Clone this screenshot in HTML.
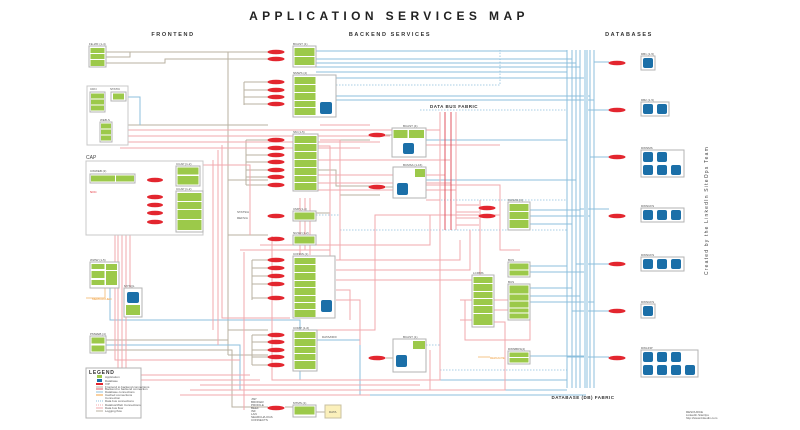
<!DOCTYPE html>
<html><head><meta charset="utf-8"><style>
html,body{margin:0;padding:0;background:#fff;width:800px;height:430px;overflow:hidden}
svg{display:block;font-family:"Liberation Sans",sans-serif}
.g{fill:#9cc94a}
.c{fill:#fff;stroke:#b3b3b3;stroke-width:1}
.b{fill:#1b6fa8}
.o{fill:#e3262f}
.r{stroke:#f2a8ad;stroke-width:1;fill:none}
.rd{stroke:#e05560;stroke-width:1;fill:none}
.u{stroke:#8cbfdc;stroke-width:1;fill:none}
.ud{stroke:#8cbfdc;stroke-width:0.8;fill:none;stroke-dasharray:1.5 1.5}
.k{stroke:#b9b2a2;stroke-width:1;fill:none}
.t{font-size:3px;fill:#555}
.h{font-size:5.5px;font-weight:bold;fill:#333;letter-spacing:1.6px}
</style></head><body>
<svg width="800" height="430" viewBox="0 0 800 430">
<text x="389" y="20" text-anchor="middle" font-size="12" font-weight="bold" fill="#222" letter-spacing="4.4">APPLICATION SERVICES MAP</text>
<text x="173" y="36" text-anchor="middle" class="h">FRONTEND</text>
<text x="390" y="36" text-anchor="middle" class="h">BACKEND SERVICES</text>
<text x="629" y="36" text-anchor="middle" class="h">DATABASES</text>
<text x="454" y="108" text-anchor="middle" font-size="4.5" font-weight="bold" fill="#333" letter-spacing="0.5">DATA BUS FABRIC</text>
<text x="583" y="399" text-anchor="middle" font-size="4.5" font-weight="bold" fill="#333" letter-spacing="0.5">DATABASE (DB) FABRIC</text>
<text transform="translate(708,275) rotate(-90)" font-size="5" fill="#444" letter-spacing="1.2">Created by the LinkedIn SiteOps Team</text>

<g class="k">
<path d="M106 52H228M106 57H130V52M106 63H165V59H228M228 52V355M228 52H268M228 59H268M228 125H268M228 180H268M228 235H268M228 330H268M228 355H268"/>
<path d="M244 82V105M244 82H268M244 90H268M244 97H268M244 104H268"/>
<path d="M246 140V185M246 140H268M246 148H268M246 155H268M246 162H268M246 170H268M246 177H268M246 185H268"/>
<path d="M252 260V300M252 260H268M252 268H268M252 276H268M252 284H268M252 298H268"/>
<path d="M252 335V365M252 335H268M252 342H268M252 350H268M252 357H268M252 365H268"/>
<path d="M128 125H228M135 180H147M163 180H176M140 195V235M140 197H148M140 205H148M140 213H148M140 222H148M106 340H228M106 350H232V407H268"/>
<path d="M336 140H370M386 135H392M386 187H393M386 358H393M316 170H336V186H370M316 213H330M340 180V195H380"/>
<path d="M249 407H268M285 407H293M316 412H325"/>
</g>
<g class="u">
<path d="M316 51H567M316 59H572M316 63H576M316 67H580M316 72H567M316 78H586M336 96H590M336 100H594"/>
<path d="M121 97H140V125"/>
<path d="M594 62H609M586 110H609M590 157H609M580 209H609M576 264H609M572 311H609M567 357H609"/>
<path d="M426 140H567M426 180H576M530 210H580M530 216H590M530 224H572M530 266H567M530 272H586M530 288H572M530 296H580M530 302H594M530 356H586"/>
<path d="M110 280V320H300V380H567M106 345H240V390H567M316 340H360V395H586"/>
<path d="M567 50V388M572 50V388M576 50V388M580 50V388M590 50V388M594 50V388"/>
</g>
<rect x="584" y="50" width="4" height="338" fill="#c6e0ef"/>
<g class="ud">
<path d="M336 85H500V50M420 110H567M426 200H567M316 215H340V230H567M426 345H440V370H567"/>
</g>
<g class="r">
<path d="M110 130H440M112 136H390M116 142H380M120 148H360M108 165H250V235M110 190H130V290M115 195V360H240M118 198V380H260M122 200V375H250M126 204V370"/>
<path d="M213 160V330M218 150V345M222 145V318H290"/>
<path d="M320 125H370M320 140H340V260M316 146H330V300M316 160H450M316 175H445M316 183H451M316 190H456"/>
<path d="M336 260H460V240M336 270H470V230M336 280H480V200M336 290H350V320M336 300H360V345M316 330H375V215H500"/>
<path d="M300 198V255M305 198V250M310 198V255M240 250H330M244 252V410M260 245H430V215M272 236V380H440V300"/>
<path d="M426 145H500M426 200H440V330M426 185H500V250H520"/>
<path d="M440 112V230M445 112V230M451 112V230M456 112V230"/>
<path d="M456 205H479M456 212H479M456 218H479M456 225H479"/>
<path d="M460 300H472M460 320H472M494 300H510M494 310H510M465 300V340H530V290M494 322H505V390H280"/>
<path d="M180 395H370M200 385H420M190 390H430V350"/>
</g>
<g class="rd"><path d="M445 112V230M451 112V230"/></g>
<path d="M86 298H105V288H110" stroke="#f6c68a" fill="none"/>
<path d="M478 357H490" stroke="#f6c68a" fill="none"/>

<rect class="c" x="89" y="46" width="17" height="21"/>
<rect class="g" x="90.5" y="48" width="14" height="5"/><rect class="g" x="90.5" y="54" width="14" height="5"/><rect class="g" x="90.5" y="60" width="14" height="6"/>
<text class="t" x="89" y="45">FE-WF (1-4)</text>
<rect fill="#fff" stroke="#c8c8c8" x="87" y="86" width="41" height="59"/>
<rect class="c" x="90" y="92" width="15" height="20"/>
<rect class="g" x="91" y="93.5" width="13" height="5"/><rect class="g" x="91" y="99.5" width="13" height="5"/><rect class="g" x="91" y="105.5" width="13" height="5"/>
<rect class="c" x="111" y="92" width="15" height="9"/><rect class="g" x="113" y="93.5" width="11" height="6"/>
<rect class="c" x="100" y="122" width="12" height="20"/>
<rect class="g" x="101" y="123.5" width="10" height="5"/><rect class="g" x="101" y="129.5" width="10" height="5"/><rect class="g" x="101" y="135.5" width="10" height="5"/>
<text class="t" x="90" y="90">CDN</text><text class="t" x="110" y="90">STATIC</text><text class="t" x="100" y="121">WEB-S</text>
<text x="86" y="159" font-size="5" fill="#444">CAP</text>
<rect fill="#fff" stroke="#c8c8c8" x="86" y="161" width="117" height="74"/>
<rect class="c" x="90" y="174" width="45" height="9"/><rect class="g" x="91" y="175.5" width="24" height="6"/><rect class="g" x="116" y="175.5" width="18" height="6"/>
<text class="t" x="90" y="172">CWWEB (2)</text>
<rect class="c" x="176" y="166" width="24" height="20"/><rect class="g" x="177.5" y="167.5" width="21" height="7"/><rect class="g" x="177.5" y="176" width="21" height="8.5"/>
<rect class="c" x="176" y="191" width="27" height="41"/>
<rect class="g" x="177.5" y="193" width="24" height="8"/><rect class="g" x="177.5" y="202" width="24" height="7"/><rect class="g" x="177.5" y="210" width="24" height="9"/><rect class="g" x="177.5" y="220" width="24" height="10"/>
<text class="t" x="176" y="165">CCAP (1-2)</text><text class="t" x="176" y="190">CCAP (1-2)</text>
<text x="90" y="193" font-size="3" fill="#e3262f">NOC</text>
<rect class="c" x="90" y="262" width="29" height="26"/>
<rect class="g" x="91.5" y="264" width="13" height="5"/><rect class="g" x="91.5" y="271" width="13" height="7"/><rect class="g" x="91.5" y="280" width="13" height="5"/><rect class="g" x="106" y="264" width="11" height="6"/><rect class="g" x="106" y="271" width="11" height="14"/>
<text class="t" x="90" y="261">WWW (1-5)</text>
<rect class="c" x="124" y="288" width="18" height="29"/><rect class="b" x="127" y="292" width="12" height="11" rx="2"/><rect class="g" x="126" y="305" width="14" height="10"/>
<text class="t" x="124" y="287">MYSQL</text>
<text x="92" y="300" font-size="3" fill="#f0a040">MEMCACHED</text>
<rect class="c" x="90" y="336" width="16" height="17"/><rect class="g" x="91.5" y="337.5" width="13" height="6"/><rect class="g" x="91.5" y="345.5" width="13" height="6"/>
<text class="t" x="90" y="335">PMWEB (4)</text>
<rect class="c" x="86" y="368" width="55" height="50"/>
<text x="89" y="374" font-size="5" font-weight="bold" fill="#333" letter-spacing="0.8">LEGEND</text>
<rect class="g" x="97" y="375" width="5" height="3"/><rect class="b" x="97" y="379" width="5" height="3"/><rect class="o" x="96" y="383" width="7" height="2"/>
<g stroke-width="1"><path d="M96 387H103" stroke="#b9b2a2"/><path d="M96 389H103" stroke="#e05560"/><path d="M96 392H103" stroke="#8cbfdc"/><path d="M96 395H103" stroke="#f0a040"/><path d="M96 401H103" stroke="#8cbfdc" stroke-dasharray="1 1"/><path d="M96 405H103" stroke="#f2a8ad" stroke-dasharray="1 1"/><path d="M96 408H103" stroke="#f2a8ad"/><path d="M96 411H103" stroke="#b9b2a2"/></g>
<g class="t" font-size="2"><text x="105" y="378">Application</text><text x="105" y="382">Database</text><text x="105" y="385">VIP</text><text x="105" y="388">Frontend to backend connections</text><text x="105" y="390">Backend to backend connection</text><text x="105" y="393">Database connections</text><text x="105" y="396">Cached connections</text><text x="105" y="399">Connection</text><text x="105" y="402">Data bus connections</text><text x="105" y="406">Databus/Web Connections</text><text x="105" y="409">Data bus flow</text><text x="105" y="412">Logging flow</text></g>

<rect class="c" x="293" y="46" width="23" height="21"/><rect class="g" x="294.5" y="48" width="20" height="8"/><rect class="g" x="294.5" y="57" width="20" height="8"/>
<text class="t" x="293" y="45">BCAST (1)</text>
<rect class="c" x="293" y="75" width="43" height="42"/>
<rect class="g" x="294.5" y="77" width="21" height="7"/><rect class="g" x="294.5" y="85" width="21" height="7"/><rect class="g" x="294.5" y="93" width="21" height="7"/><rect class="g" x="294.5" y="101" width="21" height="6"/><rect class="g" x="294.5" y="108" width="21" height="7"/>
<rect class="b" x="320" y="102" width="12" height="12" rx="2"/>
<text class="t" x="293" y="74">NMWS (4)</text>
<rect class="c" x="293" y="134" width="25" height="57"/>
<g class="g"><rect x="294.5" y="136" width="22" height="7"/><rect x="294.5" y="144" width="22" height="7"/><rect x="294.5" y="152" width="22" height="7"/><rect x="294.5" y="160" width="22" height="7"/><rect x="294.5" y="168" width="22" height="7"/><rect x="294.5" y="176" width="22" height="6"/><rect x="294.5" y="183" width="22" height="7"/></g>
<text class="t" x="293" y="133">SM (1-5)</text>
<rect class="c" x="293" y="211" width="23" height="10"/><rect class="g" x="294.5" y="212.5" width="20" height="7"/><text class="t" x="293" y="210">CMP (1-4)</text>
<rect class="c" x="293" y="235" width="23" height="10"/><rect class="g" x="294.5" y="236.5" width="20" height="7"/><text class="t" x="293" y="234">NUSR (1-2)</text>
<rect class="c" x="293" y="256" width="42" height="62"/>
<g class="g"><rect x="294.5" y="258" width="21" height="6"/><rect x="294.5" y="265" width="21" height="7"/><rect x="294.5" y="273" width="21" height="7"/><rect x="294.5" y="281" width="21" height="6"/><rect x="294.5" y="288" width="21" height="7"/><rect x="294.5" y="296" width="21" height="6"/><rect x="294.5" y="303" width="21" height="6"/><rect x="294.5" y="310" width="21" height="7"/></g>
<rect class="b" x="321" y="300" width="11" height="12" rx="2"/>
<text class="t" x="293" y="255">CONNS (1)</text>
<rect class="c" x="293" y="330" width="24" height="41"/>
<g class="g"><rect x="294.5" y="332" width="21" height="6"/><rect x="294.5" y="339" width="21" height="7"/><rect x="294.5" y="347" width="21" height="6"/><rect x="294.5" y="354" width="21" height="6"/><rect x="294.5" y="361" width="21" height="8"/></g>
<text class="t" x="293" y="329">COMP (1-6)</text>
<rect class="c" x="293" y="405" width="23" height="12"/><rect class="g" x="294.5" y="406.5" width="20" height="8"/><text class="t" x="293" y="404">MTMS (1)</text>
<rect x="325" y="405" width="16" height="13" fill="#fbf0bb" stroke="#c8c0a0"/><text class="t" x="329" y="413">DATA</text>
<g class="t" font-size="2.5"><text x="251" y="400">JSP</text><text x="251" y="403">BROKER</text><text x="251" y="406">PROFILE</text><text x="251" y="409">BEEF</text><text x="251" y="412">INF</text><text x="251" y="415">LAN</text><text x="251" y="418">SEARCH/LOGS</text><text x="251" y="421">CONNECTS</text></g>
<text class="t" x="237" y="213">STATS/A</text><text class="t" x="237" y="219">REFS/A</text>
<text class="t" x="322" y="338">DATA/DIFF</text>

<rect class="c" x="392" y="128" width="34" height="29"/><rect class="g" x="393.5" y="130" width="14" height="8"/><rect class="g" x="409" y="130" width="15" height="8"/><rect class="b" x="403" y="143" width="11" height="11" rx="2"/>
<text class="t" x="403" y="127">BCAST (4)</text>
<rect class="c" x="393" y="167" width="33" height="31"/><rect class="g" x="415" y="169" width="10" height="8"/><rect class="b" x="397" y="183" width="11" height="12" rx="2"/>
<text class="t" x="403" y="166">BCMSA (1-16)</text>
<rect class="c" x="393" y="339" width="33" height="33"/><rect class="g" x="413" y="341" width="12" height="8"/><rect class="b" x="396" y="355" width="11" height="12" rx="2"/>
<text class="t" x="403" y="338">BCAST (1)</text>

<rect class="c" x="508" y="202" width="22" height="28"/><rect class="g" x="509.5" y="204" width="19" height="7"/><rect class="g" x="509.5" y="212" width="19" height="7"/><rect class="g" x="509.5" y="220" width="19" height="8"/>
<text class="t" x="508" y="201">DANAS (4)</text>
<rect class="c" x="472" y="275" width="22" height="52"/>
<g class="g"><rect x="473.5" y="277" width="19" height="6"/><rect x="473.5" y="284" width="19" height="7"/><rect x="473.5" y="292" width="19" height="6"/><rect x="473.5" y="299" width="19" height="6"/><rect x="473.5" y="306" width="19" height="7"/><rect x="473.5" y="314" width="19" height="11"/></g>
<text class="t" x="473" y="274">LCRMS</text>
<rect class="c" x="508" y="262" width="22" height="15"/><rect class="g" x="509.5" y="263.5" width="19" height="6"/><rect class="g" x="509.5" y="270.5" width="19" height="5"/>
<text class="t" x="508" y="261">BUS</text>
<rect class="c" x="508" y="284" width="22" height="36"/>
<g class="g"><rect x="509.5" y="285.5" width="19" height="8"/><rect x="509.5" y="294.5" width="19" height="6"/><rect x="509.5" y="301.5" width="19" height="6"/><rect x="509.5" y="308.5" width="19" height="4"/><rect x="509.5" y="313.5" width="19" height="5"/></g>
<text class="t" x="508" y="283">BUS</text>
<rect class="c" x="508" y="351" width="22" height="13"/><rect class="g" x="509.5" y="352.5" width="19" height="4.5"/><rect class="g" x="509.5" y="358" width="19" height="4.5"/>
<text class="t" x="508" y="350">DWNBDS(4)</text>
<text x="490" y="359" font-size="2.5" fill="#f0a040">MEMCACHE</text>

<rect class="c" x="641" y="56" width="14" height="14"/><rect class="b" x="643" y="58" width="10" height="10" rx="2"/><text class="t" x="641" y="55">DB1 (1-5)</text>
<rect class="c" x="641" y="102" width="28" height="14"/><rect class="b" x="643" y="104" width="10" height="10" rx="2"/><rect class="b" x="657" y="104" width="10" height="10" rx="2"/><text class="t" x="641" y="101">DB2 (1-5)</text>
<rect class="c" x="641" y="150" width="43" height="27"/>
<g class="b"><rect x="643" y="152" width="10" height="10" rx="2"/><rect x="657" y="152" width="10" height="10" rx="2"/><rect x="643" y="165" width="10" height="10" rx="2"/><rect x="657" y="165" width="10" height="10" rx="2"/><rect x="671" y="165" width="10" height="10" rx="2"/></g>
<text class="t" x="641" y="149">DWNMS</text>
<rect class="c" x="641" y="208" width="43" height="14"/>
<g class="b"><rect x="643" y="210" width="10" height="10" rx="2"/><rect x="657" y="210" width="10" height="10" rx="2"/><rect x="671" y="210" width="10" height="10" rx="2"/></g>
<text class="t" x="641" y="207">DWNUFS</text>
<rect class="c" x="641" y="257" width="43" height="14"/>
<g class="b"><rect x="643" y="259" width="10" height="10" rx="2"/><rect x="657" y="259" width="10" height="10" rx="2"/><rect x="671" y="259" width="10" height="10" rx="2"/></g>
<text class="t" x="641" y="256">DWNUFS</text>
<rect class="c" x="641" y="304" width="14" height="14"/><rect class="b" x="643" y="306" width="10" height="10" rx="2"/><text class="t" x="641" y="303">DWNUFS</text>
<rect class="c" x="641" y="350" width="57" height="27"/>
<g class="b"><rect x="643" y="352" width="10" height="10" rx="2"/><rect x="657" y="352" width="10" height="10" rx="2"/><rect x="671" y="352" width="10" height="10" rx="2"/><rect x="643" y="365" width="10" height="10" rx="2"/><rect x="657" y="365" width="10" height="10" rx="2"/><rect x="671" y="365" width="10" height="10" rx="2"/><rect x="685" y="365" width="10" height="10" rx="2"/></g>
<text class="t" x="641" y="349">DWLINP</text>
<g class="t" font-size="2"><text x="686" y="413">RESOURCE</text><text x="686" y="416">LinkedIn SiteOps</text><text x="686" y="419">http://www.linkedin.com</text></g>

<g class="o">
<ellipse cx="155" cy="180" rx="8" ry="2.3"/>
<ellipse cx="155" cy="197" rx="8" ry="2.3"/><ellipse cx="155" cy="205" rx="8" ry="2.3"/><ellipse cx="155" cy="213" rx="8" ry="2.3"/><ellipse cx="155" cy="222" rx="8" ry="2.3"/>
<ellipse cx="276" cy="52" rx="8.5" ry="2.3"/><ellipse cx="276" cy="59" rx="8.5" ry="2.3"/>
<ellipse cx="276" cy="82" rx="8.5" ry="2.3"/><ellipse cx="276" cy="90" rx="8.5" ry="2.3"/><ellipse cx="276" cy="97" rx="8.5" ry="2.3"/><ellipse cx="276" cy="104" rx="8.5" ry="2.3"/>
<ellipse cx="276" cy="140" rx="8.5" ry="2.3"/><ellipse cx="276" cy="148" rx="8.5" ry="2.3"/><ellipse cx="276" cy="155" rx="8.5" ry="2.3"/><ellipse cx="276" cy="162" rx="8.5" ry="2.3"/><ellipse cx="276" cy="170" rx="8.5" ry="2.3"/><ellipse cx="276" cy="177" rx="8.5" ry="2.3"/><ellipse cx="276" cy="185" rx="8.5" ry="2.3"/>
<ellipse cx="276" cy="216" rx="8.5" ry="2.3"/><ellipse cx="276" cy="239" rx="8.5" ry="2.3"/>
<ellipse cx="276" cy="260" rx="8.5" ry="2.3"/><ellipse cx="276" cy="268" rx="8.5" ry="2.3"/><ellipse cx="276" cy="276" rx="8.5" ry="2.3"/><ellipse cx="276" cy="284" rx="8.5" ry="2.3"/><ellipse cx="276" cy="298" rx="8.5" ry="2.3"/>
<ellipse cx="276" cy="335" rx="8.5" ry="2.3"/><ellipse cx="276" cy="342" rx="8.5" ry="2.3"/><ellipse cx="276" cy="350" rx="8.5" ry="2.3"/><ellipse cx="276" cy="357" rx="8.5" ry="2.3"/><ellipse cx="276" cy="365" rx="8.5" ry="2.3"/>
<ellipse cx="276" cy="408" rx="8.5" ry="2.3"/>
<ellipse cx="377" cy="135" rx="8.5" ry="2.3"/><ellipse cx="377" cy="187" rx="8.5" ry="2.3"/><ellipse cx="377" cy="358" rx="8.5" ry="2.3"/>
<ellipse cx="487" cy="208" rx="8.5" ry="2.3"/><ellipse cx="487" cy="216" rx="8.5" ry="2.3"/>
<ellipse cx="617" cy="63" rx="8.5" ry="2.3"/><ellipse cx="617" cy="110" rx="8.5" ry="2.3"/><ellipse cx="617" cy="157" rx="8.5" ry="2.3"/><ellipse cx="617" cy="216" rx="8.5" ry="2.3"/><ellipse cx="617" cy="264" rx="8.5" ry="2.3"/><ellipse cx="617" cy="311" rx="8.5" ry="2.3"/><ellipse cx="617" cy="358" rx="8.5" ry="2.3"/>
</g>
</svg>
</body></html>
